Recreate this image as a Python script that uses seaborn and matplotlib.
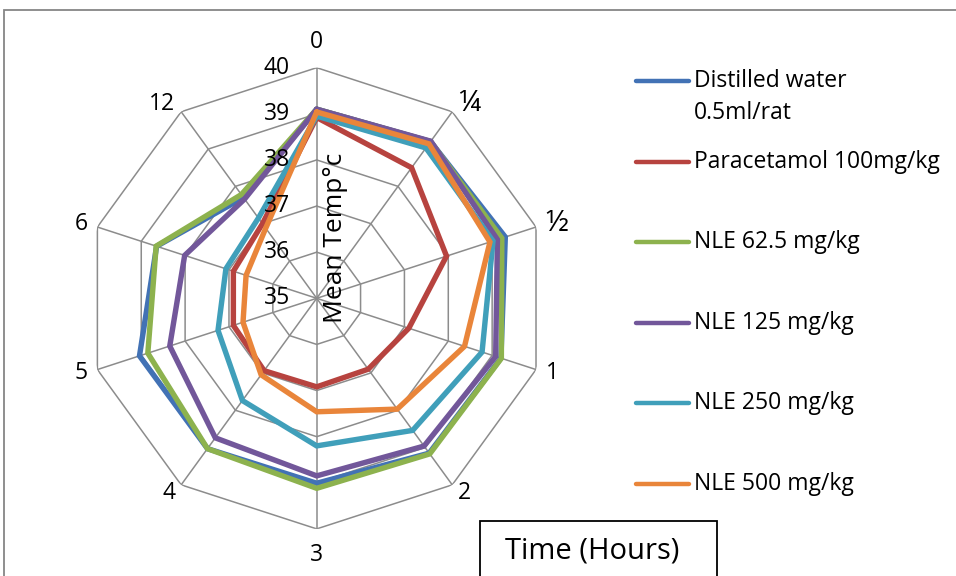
import numpy as np
import pandas as pd
import matplotlib
matplotlib.use("Agg")
import matplotlib.pyplot as plt
from matplotlib.lines import Line2D
from matplotlib.patches import Rectangle
import seaborn as sns

# ---- data ---------------------------------------------------------------
time_labels = ["0", "¼", "½", "1", "2", "3", "4", "5", "6", "12"]
groups = [
    "Distilled water\n0.5ml/rat",
    "Paracetamol 100mg/kg",
    "NLE 62.5 mg/kg",
    "NLE 125 mg/kg",
    "NLE 250 mg/kg",
    "NLE 500 mg/kg",
]
distilled_water = [39.10, 39.20, 39.30, 39.20, 39.15, 39.01, 39.03, 39.04, 38.65, 37.70]
paracetamol_100 = [38.92, 38.50, 37.96, 37.10, 36.90, 36.92, 36.94, 36.90, 36.90, 37.00]
nle_62_5 = [39.10, 39.20, 39.22, 39.21, 39.17, 39.12, 39.03, 38.85, 38.66, 37.78]
nle_125 = [39.10, 39.21, 39.12, 39.08, 38.96, 38.85, 38.74, 38.35, 38.01, 37.66]
nle_250 = [38.95, 39.03, 39.02, 38.77, 38.54, 38.20, 37.74, 37.25, 37.07, 37.15]
nle_500 = [39.04, 39.14, 38.95, 38.37, 37.97, 37.46, 37.05, 36.68, 36.61, 36.88]
r_ticks = [35, 36, 37, 38, 39, 40]

series = [distilled_water, paracetamol_100, nle_62_5, nle_125, nle_250, nle_500]
colors = ["#4272B5", "#B7433F", "#8DB24E", "#72579A", "#409FBA", "#E9853A"]

# ---- long table, closing each polygon back at the first spoke ------------
n = len(time_labels)
theta = np.linspace(0, 2 * np.pi, n, endpoint=False)
rows = []
for g, vals in zip(groups, series):
    for k in range(n + 1):
        rows.append({"group": g, "theta": theta[k % n] if k < n else 2 * np.pi,
                     "temp": vals[k % n], "step": k})
df = pd.DataFrame(rows)

# ---- figure -------------------------------------------------------------
sns.set_theme(style="white")
plt.rcParams["font.family"] = ["Open Sans", "DejaVu Sans"]
W, H = 956, 576
fig = plt.figure(figsize=(W / 100, H / 100), dpi=100)

cx, cy, rad = 316.7, 298.3, 230.6
ax = fig.add_axes([(cx - rad) / W, 1 - (cy + rad) / H, 2 * rad / W, 2 * rad / H],
                  projection="polar")
ax.set_theta_zero_location("N")
ax.set_theta_direction(-1)
ax.set_rlim(r_ticks[0], r_ticks[-1])
ax.grid(False)
ax.spines["polar"].set_visible(False)
ax.set_xticks([])
ax.set_yticks([])
ax.patch.set_alpha(0)

grid_col = "#8C8C8C"
closed = np.append(theta, theta[0])
for r in r_ticks[1:]:
    ax.plot(closed, [r] * (n + 1), color=grid_col, lw=1.1, zorder=1)
for th in theta:
    ax.plot([th, th], [r_ticks[0], r_ticks[-1]], color=grid_col, lw=1.1, zorder=1)

sns.lineplot(data=df, x="theta", y="temp", hue="group", hue_order=groups,
             palette=colors, sort=False, estimator=None, units="group",
             lw=3.9, legend=False, ax=ax, zorder=3)
for line in ax.get_lines()[-len(groups):]:
    line.set_solid_joinstyle("miter")
ax.set_xlabel("")
ax.set_ylabel("")

px = 0.72  # points per pixel at 100 dpi
fs = 16.5

# radial value labels along the top spoke
for r in r_ticks:
    ax.annotate(str(r), xy=(0, r), xytext=(-27 * px, 0), textcoords="offset points",
                ha="right", va="center", fontsize=fs, color="#000000")

# time labels around the outside (fraction glyphs are set a little larger)
for th, lab in zip(theta, time_labels):
    s, c = np.sin(th), np.cos(th)
    if abs(s) < 0.1:
        gap = 14
        ha = "center"
        va = "bottom" if c > 0 else "top"
    else:
        gap = 10
        ha = "left" if s > 0 else "right"
        va = "center"
    size = fs * 1.3 if lab in ("¼", "½") else fs
    ax.annotate(lab, xy=(th, r_ticks[-1]), xytext=(s * gap * px, c * gap * px),
                textcoords="offset points", ha=ha, va=va, fontsize=size, color="#000000")

# axis title
fig.text(335 / W, 1 - 238 / H, "Mean Temp°c", rotation=90, ha="center", va="center",
         fontsize=19, color="#000000")

# legend
leg_y = [81, 162, 242, 323, 403, 484]
for g, col, y in zip(groups, colors, leg_y):
    fig.add_artist(Line2D([636 / W, 689 / W], [1 - y / H, 1 - y / H], color=col,
                          lw=3.2, solid_capstyle="round"))
    fig.text(694 / W, 1 - y / H, g.split("\n")[0], ha="left", va="center",
             fontsize=fs, color="#000000")
    if "\n" in g:
        fig.text(694 / W, 1 - (y + 32) / H, g.split("\n")[1], ha="left", va="center",
                 fontsize=fs, color="#000000")

# outer chart border
fig.add_artist(Rectangle((4 / W, -0.05), 1.1, 1 - 10 / H + 0.05, fill=False,
                         edgecolor="#868686", lw=1.3, transform=fig.transFigure))

# time caption box
fig.add_artist(Rectangle((480 / W, -0.05), (717 - 480) / W, 0.05 + 1 - 521 / H,
                         fill=True, facecolor="white", edgecolor="#000000", lw=1.3,
                         transform=fig.transFigure))
fig.text(592 / W, 1 - 551 / H, "Time (Hours)", ha="center", va="center",
         fontsize=21, color="#000000")

fig.savefig("out.png", dpi=100, facecolor="white")
